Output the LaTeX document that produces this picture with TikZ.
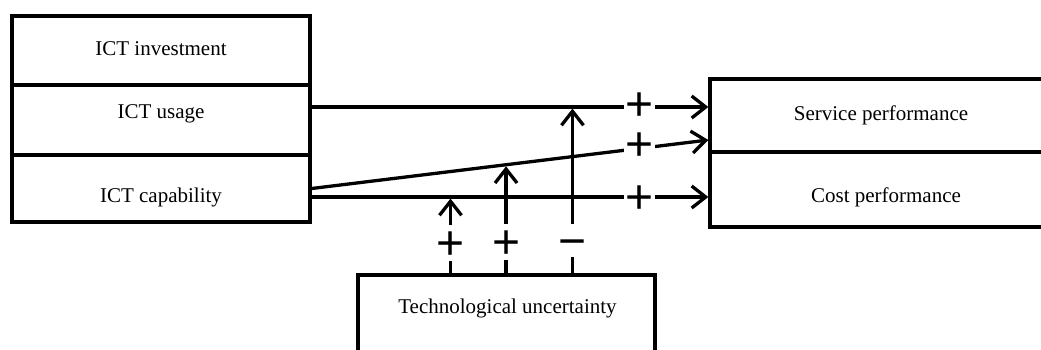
\documentclass[tikz,border=0pt]{standalone}
\usepackage{fontspec}
\setmainfont{Liberation Serif}
\newfontfamily\signfont{Liberation Sans}
\usetikzlibrary{arrows.meta}
\begin{document}
\begin{tikzpicture}[x=1pt,y=-1pt,
  box/.style={draw,line width=3.3pt,rectangle,inner sep=0pt},
  txt/.style={font=\fontsize{21}{25}\selectfont,inner sep=0pt,text height=14pt,text depth=0pt},
  conn/.style={line width=3.3pt,-{Straight Barb[length=14pt,width=22pt]}},
  sign/.style={fill=white,inner sep=0pt,minimum width=31pt,minimum height=22pt,
    text height=0.22em,text depth=0.22em,font=\fontsize{48}{48}\signfont},
  vsign/.style={sign,minimum height=36pt}
]
\useasboundingbox (0,0) rectangle (1041,349);
\clip (0,0) rectangle (1041,349);
% left boxes
\node[box,minimum width=298pt,minimum height=69pt] (li) at (161,50.5) {};
\node[box,minimum width=298pt,minimum height=70pt] (lu) at (161,120) {};
\node[box,minimum width=298pt,minimum height=67pt] (lc) at (161,188.5) {};
\node[txt] (tli) at (161,48) {ICT investment};
\node[txt] (tlu) at (161,111) {ICT usage};
\node[txt] (tlc) at (161,195) {ICT capability};
% right boxes
\node[box,minimum width=350pt,minimum height=73pt] (rs) at (885,115.5) {};
\node[box,minimum width=350pt,minimum height=75pt] (rc) at (885,189.5) {};
\node[txt] (trs) at (881,113) {Service performance};
\node[txt] (trc) at (886,195) {Cost performance};
% bottom box
\node[box,minimum width=297pt,minimum height=125pt] (tu) at (506.5,337.5) {};
\node[txt] (ttu) at (507.5,306) {Technological uncertainty};
% horizontal / diagonal connectors
\draw[conn] ([yshift=13pt]lu.east) -- ([yshift=8.5pt]rs.west)
  node[sign,pos=0.8275,yshift=4pt] (p1) {\raisebox{-0.355em}{+}}
  coordinate[pos=0.6575] (m3);
\draw[conn] (lc.east) -- ([yshift=-24.5pt]rs.west)
  node[sign,pos=0.8275,yshift=5pt] (p2) {\raisebox{-0.355em}{+}}
  coordinate[pos=0.49] (m2);
\draw[conn] ([yshift=-8.5pt]lc.east) -- ([yshift=-7.5pt]rc.west)
  node[sign,pos=0.8275,yshift=1pt] (p3) {\raisebox{-0.355em}{+}}
  coordinate[pos=0.35] (m1);
% moderating arrows
\draw[conn,shorten >=1.6pt] (tu.north -| m1) -- (m1)
  node[vsign,pos=0.404] (q1) {\raisebox{-0.355em}{+}};
\draw[conn,shorten >=1.6pt] (tu.north -| m2) -- (m2)
  node[vsign,pos=0.29] (q2) {\raisebox{-0.355em}{+}};
\draw[conn,shorten >=1.6pt] (tu.north -| m3) -- (m3)
  node[vsign,pos=0.195,minimum height=33pt] (q3) {\raisebox{-0.355em}{−}};
\end{tikzpicture}
\end{document}
